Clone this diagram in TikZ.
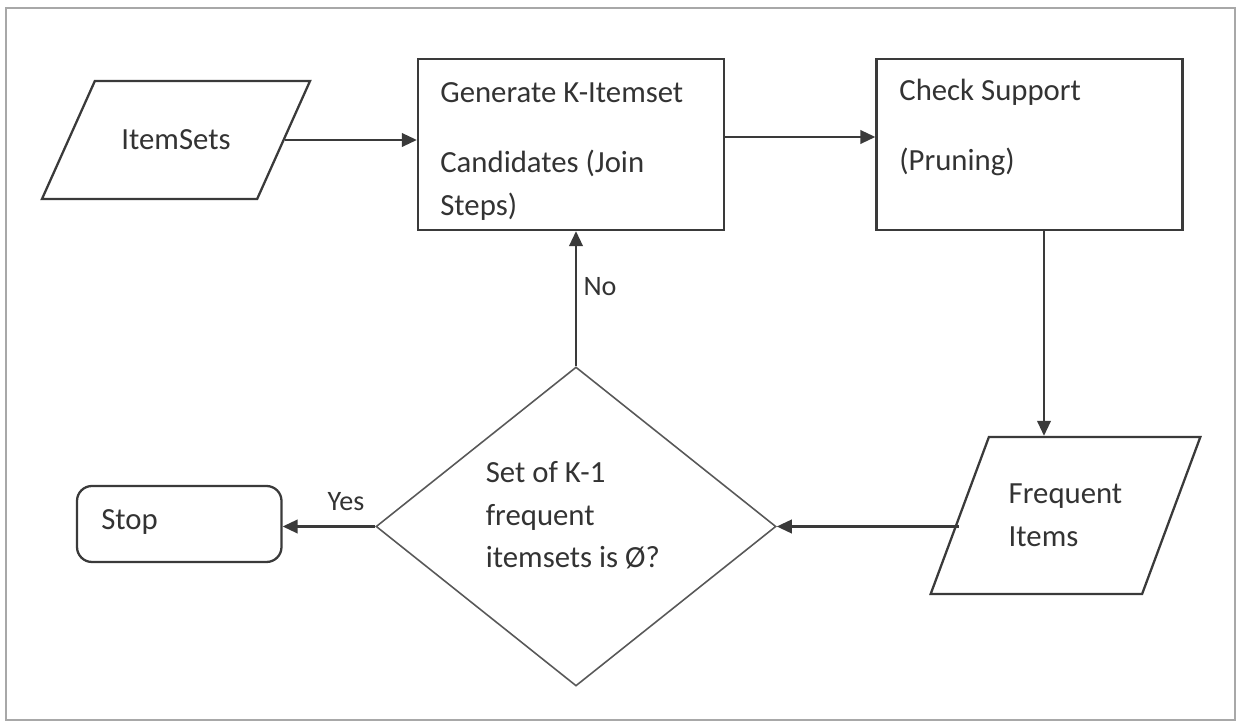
\documentclass[tikz,border=0pt]{standalone}
\usepackage{fontspec}
\setmainfont{Carlito}
\usepackage{tikz}
\usetikzlibrary{shapes.geometric}
\usetikzlibrary{arrows.meta}

\definecolor{linegray}{HTML}{3A3A3A}
\definecolor{textgray}{HTML}{333333}
\definecolor{framegray}{HTML}{A8A8A8}

\tikzset{
	flowbox/.style={draw=linegray, line width=1.3pt, minimum width=6.12cm, minimum height=3.42cm, inner sep=0pt},
	databox/.style={trapezium, draw=linegray, line width=1.3pt, trapezium stretches=true, inner sep=2pt, align=left},
	arr/.style={-{Triangle[length=0.3cm,width=0.27cm]}, draw=linegray, line width=1.3pt},
	txt/.style={text=textgray, font=\fontsize{17.5}{24}\selectfont, inner sep=0pt},
	lbl/.style={text=textgray, font=\fontsize{16}{20}\selectfont, inner sep=0pt}
}

\begin{document}
\begin{tikzpicture}
		\useasboundingbox (0, 0) rectangle (24.76, 14.52);
		\draw[framegray, line width=1pt] (0.12, 0.12) rectangle (24.7, 14.36);
		
		\node[databox, text=textgray, font=\fontsize{17.5}{24}\selectfont, minimum width=5.37cm, minimum height=2.36cm, trapezium left angle=35.7, trapezium right angle=144.3] (is) at (3.52, 11.72) {ItemSets};
		\node[flowbox] (gen) at (11.42, 11.63) {};
		\node[flowbox] (chk) at (20.59, 11.63) {};
		\node[databox, text=textgray, font=\fontsize{17.5}{24.5}\selectfont, minimum width=5.4cm, minimum height=3.14cm, trapezium left angle=56.8, trapezium right angle=123.2] (fi) at (21.31, 4.21) {Frequent\\Items};
		\node[diamond, draw=linegray!85, line width=0.9pt, minimum width=8cm, minimum height=6.38cm, inner sep=0pt] (dec) at (11.52, 3.99) {};
		\node[draw=linegray, line width=1.3pt, rounded corners=0.3cm, minimum width=4.09cm, minimum height=1.52cm] (stop) at (3.585, 4.04) {};
		
		\node[txt, anchor=west] (gen1) at (8.8, 12.66) {Generate K-Itemset};
		\node[txt, anchor=west] (gen2) at (8.8, 11.26) {Candidates (Join};
		\node[txt, anchor=west] (gen3) at (8.8, 10.38) {Steps)};
		
		\node[txt, anchor=west] (chk1) at (17.98, 12.68) {Check Support};
		\node[txt, anchor=west] (chk2) at (17.98, 11.28) {(Pruning)};
		
		\node[txt, anchor=west] (dec1) at (9.71, 5.08) {Set of K-1};
		\node[txt, anchor=west] (dec2) at (9.71, 4.18) {frequent};
		\node[txt, anchor=west] (dec3) at (9.71, 3.36) {itemsets is Ø?};
		
		\node[txt, anchor=west] (stoptxt) at (2.02, 4.08) {Stop};
		
		\node[lbl] (yes) at (6.92, 4.48) {Yes};
		\node[lbl] (no) at (12.0, 8.78) {No};
		
		\draw[arr] (is.east) -- (is.east -| gen.west);
		\draw[arr] ([yshift=0.15cm]gen.east) -- ([yshift=0.15cm]chk.west);
		\draw[arr] ([xshift=0.29cm]chk.south) -- ([xshift=0.29cm]chk.south |- fi.north);
		\draw[arr] (fi.west |- dec.east) -- (dec.east);
		\draw[arr] (dec.west) -- (dec.west -| stop.east);
		\draw[arr] (dec.north) -- (dec.north |- gen.south);
		
	\end{tikzpicture}
\end{document}
